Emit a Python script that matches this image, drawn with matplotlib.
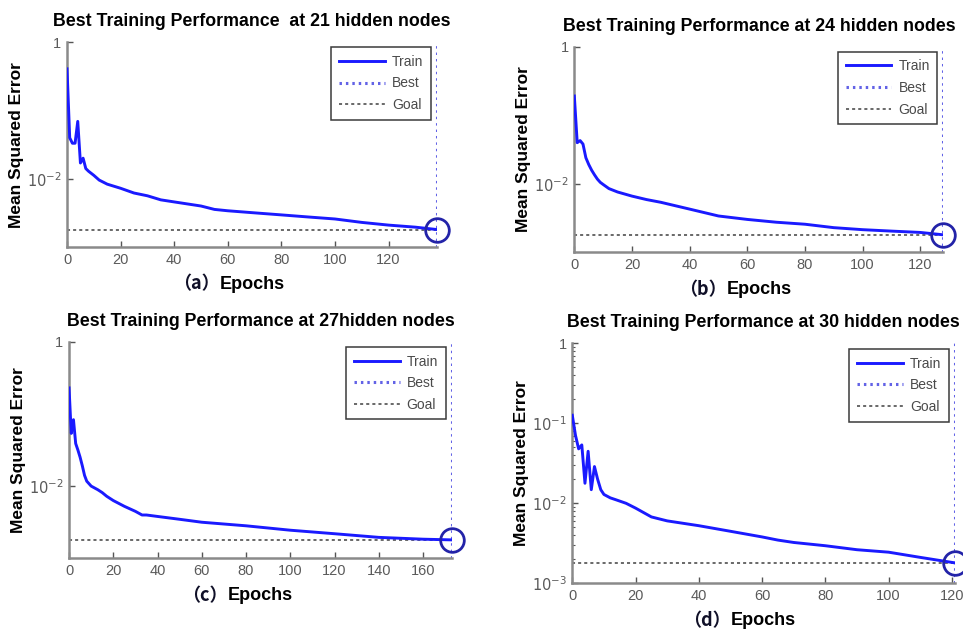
import matplotlib
matplotlib.use("Agg")
import matplotlib.pyplot as plt
from matplotlib.ticker import FixedLocator, FixedFormatter, NullLocator, LogLocator, NullFormatter

plt.rcParams['font.family'] = ['Liberation Sans', 'DejaVu Sans']

# ---- training records: mean squared error at recorded epochs ----
epochs_a = [0, 1, 2, 3, 4, 5, 6, 7, 8, 10, 12, 15, 20, 25, 30, 35, 40, 50, 55, 60,
            70, 80, 90, 100, 110, 120, 130, 138]
mse_a = [0.407, 0.0398, 0.0331, 0.0331, 0.0692, 0.0170, 0.0200, 0.0141, 0.0129, 0.0112,
         0.00955, 0.00832, 0.00724, 0.00617, 0.00562, 0.00490, 0.00457, 0.00398, 0.00355,
         0.00339, 0.00316, 0.00295, 0.00275, 0.00257, 0.00229, 0.00209, 0.00195, 0.00180]

epochs_b = [0, 1, 2, 3, 4, 5, 6, 7, 8, 9, 10, 12, 15, 20, 25, 30, 40, 50, 60, 70, 80,
            90, 100, 110, 120, 128]
mse_b = [0.191, 0.0398, 0.0427, 0.0380, 0.0240, 0.0191, 0.0158, 0.0135, 0.0117, 0.0105,
         0.00977, 0.00851, 0.00759, 0.00661, 0.00589, 0.00537, 0.00427, 0.00339, 0.00302,
         0.00275, 0.00257, 0.00229, 0.00214, 0.00204, 0.00195, 0.00180]

epochs_c = [0, 1, 2, 3, 4, 5, 6, 7, 8, 10, 13, 15, 17, 20, 25, 30, 33, 35, 40, 50, 60,
            80, 100, 120, 140, 160, 173]
mse_c = [0.229, 0.0537, 0.0832, 0.0389, 0.0316, 0.0251, 0.0191, 0.0141, 0.0117, 0.0100,
         0.00891, 0.00813, 0.00724, 0.00631, 0.00525, 0.00447, 0.00398, 0.00398, 0.00380,
         0.00347, 0.00316, 0.00282, 0.00245, 0.00219, 0.00195, 0.00184, 0.00180]

epochs_d = [0, 1, 2, 3, 4, 5, 6, 7, 8, 9, 10, 12, 14, 17, 20, 25, 28, 30, 40, 50, 60,
            65, 70, 80, 90, 100, 110, 121]
mse_d = [0.126, 0.0708, 0.0479, 0.0537, 0.0178, 0.0447, 0.0148, 0.0288, 0.0200, 0.0148,
         0.0129, 0.0117, 0.0110, 0.0100, 0.00871, 0.00676, 0.00631, 0.00603, 0.00525,
         0.00447, 0.00380, 0.00347, 0.00324, 0.00295, 0.00263, 0.00245, 0.00211, 0.00180]

goal_mse = 0.0018
best_epochs = [138, 128, 173, 121]

titles = [
    "Best Training Performance  at 21 hidden nodes",
    "Best Training Performance at 24 hidden nodes",
    "Best Training Performance at 27hidden nodes",
    "Best Training Performance at 30 hidden nodes",
]
panel_tags = ["（a）", "（b）", "（c）", "（d）"]
x_ticks = [
    [0, 20, 40, 60, 80, 100, 120],
    [0, 20, 40, 60, 80, 100, 120],
    [0, 20, 40, 60, 80, 100, 120, 140, 160],
    [0, 20, 40, 60, 80, 100, 120],
]
y_ticks_sparse = [1e-2, 1.0]
y_labels_sparse = [r"$10^{-2}$", "1"]
y_ticks_full = [1e-3, 1e-2, 1e-1, 1.0]
y_labels_full = [r"$10^{-3}$", r"$10^{-2}$", r"$10^{-1}$", "1"]

series = [(epochs_a, mse_a), (epochs_b, mse_b), (epochs_c, mse_c), (epochs_d, mse_d)]

# axes rectangles [left, bottom, width, height] in figure fractions
rects = [
    [0.0696, 0.608, 0.384, 0.325],
    [0.5964, 0.5995, 0.3832, 0.3263],
    [0.0717, 0.1138, 0.3974, 0.3438],
    [0.5943, 0.0741, 0.3974, 0.381],
]

train_color = "#1a1aff"
best_color = "#6262e6"
goal_color = "#404040"
circle_color = "#2323a8"
spine_color = "#8a8a8a"
tick_text = "#5a5a5a"

fig = plt.figure(figsize=(9.63, 6.3), dpi=100)

for i, ((ep, mse), rect) in enumerate(zip(series, rects)):
    ax = fig.add_axes(rect)
    ax.set_yscale("log")
    best = best_epochs[i]
    best_val = mse[-1]

    ax.plot(ep, mse, color=train_color, lw=2.1, label="Train", zorder=3)
    ax.axvline(best, color=best_color, lw=2.2, ls=(0, (0.8, 1.3)), label="Best", zorder=2)
    ax.plot([0, best], [goal_mse, goal_mse], color=goal_color, lw=1.1,
            ls=(0, (2, 2)), label="Goal", zorder=2)
    ax.plot([best], [best_val], marker="o", ms=17, mfc="none", mec=circle_color,
            mew=2.0, zorder=4, clip_on=False)

    ax.set_xlim(0, best)
    ax.set_ylim(1e-3, 1.0)

    for s in ("top", "right"):
        ax.spines[s].set_visible(False)
    for s in ("left", "bottom"):
        ax.spines[s].set_color(spine_color)
        ax.spines[s].set_linewidth(1.8)

    ax.xaxis.set_major_locator(FixedLocator(x_ticks[i]))
    if i == 3:
        ax.yaxis.set_major_locator(FixedLocator(y_ticks_full))
        ax.yaxis.set_major_formatter(FixedFormatter(y_labels_full))
        ax.yaxis.set_minor_locator(LogLocator(base=10, subs=range(2, 10)))
        ax.yaxis.set_minor_formatter(NullFormatter())
    else:
        ax.yaxis.set_major_locator(FixedLocator(y_ticks_sparse))
        ax.yaxis.set_major_formatter(FixedFormatter(y_labels_sparse))
        ax.yaxis.set_minor_locator(NullLocator())
    ax.xaxis.set_minor_locator(NullLocator())

    ax.tick_params(axis="both", which="major", direction="in", length=4, width=1,
                   color="#555555", labelsize=10.5, labelcolor=tick_text, pad=4)
    ax.tick_params(axis="y", which="minor", direction="in", length=2.5, width=0.8,
                   color="#555555")

    ax.set_title(titles[i], fontsize=12.8, fontweight="bold", pad=11.5)
    ax.set_ylabel("Mean Squared Error", fontsize=12.5, fontweight="bold", labelpad=2)
    ax.set_xlabel("Epochs", fontsize=13, fontweight="bold", labelpad=6.5)
    ax.annotate(panel_tags[i], xy=(0, 0.5), xycoords=ax.xaxis.label,
                ha="right", va="center", fontsize=13, fontweight="bold",
                color="#101028", family=["Noto Sans CJK SC", "DejaVu Sans"])

    leg = ax.legend(loc="upper right", bbox_to_anchor=(0.984, 0.976), borderaxespad=0,
                    fontsize=10, handlelength=3.3, handletextpad=0.5,
                    labelspacing=0.55, borderpad=0.55, fancybox=False, framealpha=1)
    leg.get_frame().set_edgecolor("#3a3a3a")
    leg.get_frame().set_linewidth(1.1)
    for t in leg.get_texts():
        t.set_color("#4a4a4a")

fig.savefig("out.png", dpi=100)
